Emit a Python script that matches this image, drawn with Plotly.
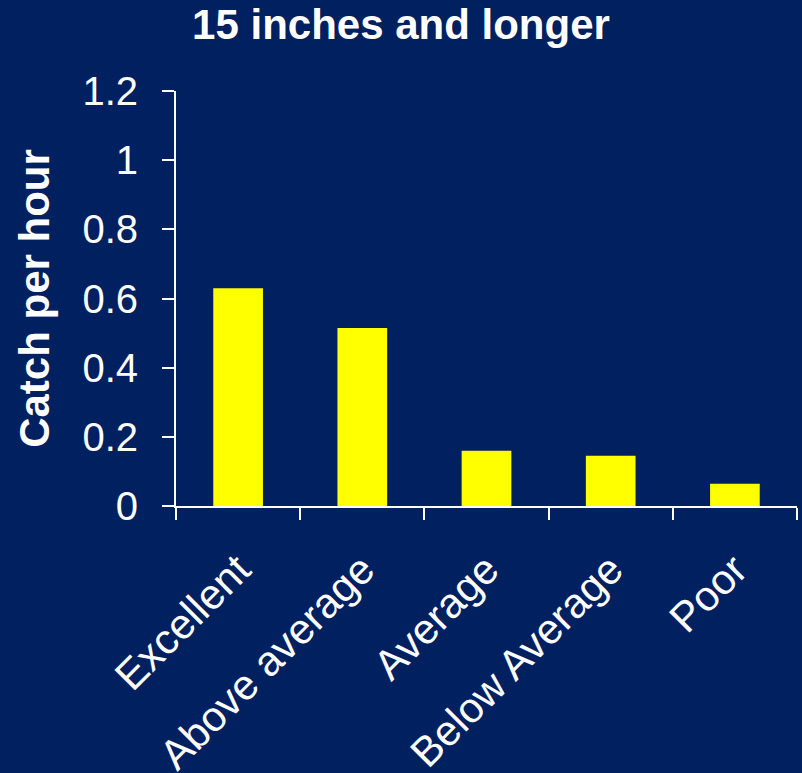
import plotly.graph_objects as go

# Chart data
categories = ['Excellent', 'Above average', 'Average', 'Below Average', 'Poor']
catch_per_hour = [0.63, 0.515, 0.16, 0.145, 0.064]
y_ticks = [0, 0.2, 0.4, 0.6, 0.8, 1, 1.2]
y_tick_labels = ['0', '0.2', '0.4', '0.6', '0.8', '1', '1.2']

NAVY = '#002060'
FONT = 'Liberation Sans, Arial, sans-serif'

fig = go.Figure()
fig.add_trace(go.Bar(x=categories, y=catch_per_hour, width=0.4,
                     marker=dict(color='#FFFF00', line=dict(width=0))))

fig.update_layout(
    width=802, height=773,
    paper_bgcolor=NAVY, plot_bgcolor=NAVY,
    margin=dict(l=176, r=5, t=91, b=267),
    showlegend=False,
    font=dict(family=FONT, color='white'),
    title=dict(text='<b>15 inches and longer</b>', x=0.5, xref='container',
               y=0.968, yref='container', yanchor='middle',
               font=dict(size=42, color='white', family=FONT)),
)

fig.update_xaxes(
    showline=True, linecolor='white', linewidth=2,
    ticks='outside', tickson='boundaries', ticklen=12, tickwidth=2, tickcolor='white',
    tickangle=-45, tickfont=dict(size=42), ticklabelstandoff=20,
    showgrid=False, zeroline=False, automargin=False,
)
fig.update_yaxes(
    range=[0, 1.2], tickvals=y_ticks, ticktext=y_tick_labels,
    showline=True, linecolor='white', linewidth=2,
    ticks='outside', ticklen=12, tickwidth=2, tickcolor='white',
    tickfont=dict(size=40), ticklabelstandoff=16,
    showgrid=False, zeroline=False, automargin=False,
    title=dict(text='<b>Catch per hour</b>', font=dict(size=42), standoff=20),
)

# drop the default page margin so the chart fills the window
fig.write_html('out.html', config={'displayModeBar': False},
               post_script="document.body.style.margin='0';")
